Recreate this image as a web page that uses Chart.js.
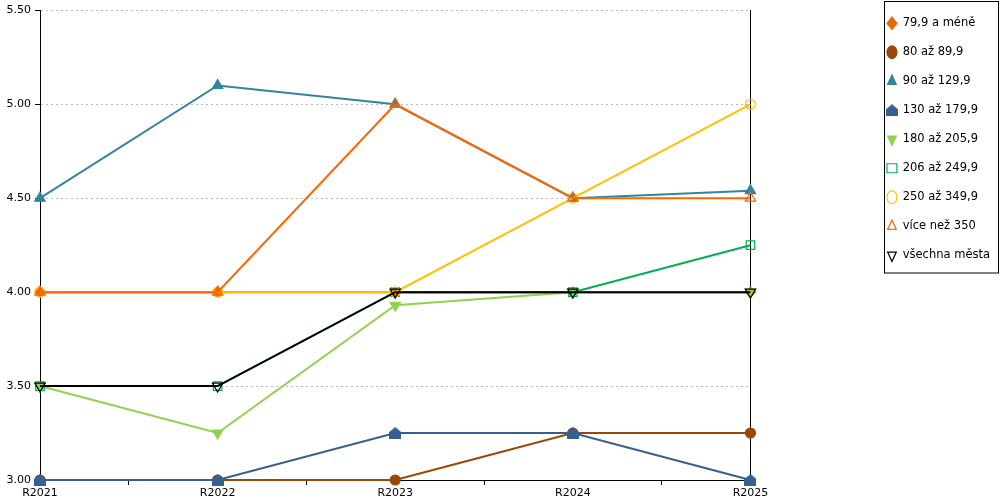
<!DOCTYPE html>
<html>
<head>
<meta charset="utf-8">
<script src="https://cdn.jsdelivr.net/npm/chart.js@4"></script>
<style>
  html, body { margin: 0; padding: 0; background: #fff; }
  #wrap { width: 1000px; height: 500px; }
</style>
</head>
<body>
<div id="wrap"><canvas id="chart" width="1000" height="500"></canvas></div>
<script>
  const years = ['R2021', 'R2022', 'R2023', 'R2024', 'R2025'];

  const seriesNames = ['79,9 a méně', '80 až 89,9', '90 až 129,9', '130 až 179,9', '180 až 205,9',
    '206 až 249,9', '250 až 349,9', 'více než 350', 'všechna města'];

  const v79 = [4.0, 4.0, 4.0, 4.0, 4.0];
  const v80 = [3.0, 3.0, 3.0, 3.25, 3.25];
  const v90 = [4.5, 5.1, 5.0, 4.5, 4.54];
  const v130 = [3.0, 3.0, 3.25, 3.25, 3.0];
  const v180 = [3.5, 3.25, 3.93, 4.0, 4.0];
  const v206 = [3.5, 3.5, 4.0, 4.0, 4.25];
  const v250 = [4.0, 4.0, 4.0, 4.5, 5.0];
  const v350 = [4.0, 4.0, 5.0, 4.5, 4.5];
  const vAll = [3.5, 3.5, 4.0, 4.0, 4.0];

  const seriesValues = [v79, v80, v90, v130, v180, v206, v250, v350, vAll];
  const seriesColors = ['#e36c09', '#984807', '#31859c', '#366092', '#92d050',
    '#00b050', '#ffc000', '#ff6600', '#000000'];

  // little house marker for the 130 - 179,9 group
  function houseMarker(color) {
    const c = document.createElement('canvas');
    c.width = 12; c.height = 12;
    const g = c.getContext('2d');
    g.fillStyle = color;
    g.beginPath();
    g.moveTo(6, 0);
    g.lineTo(12, 5);
    g.lineTo(12, 12);
    g.lineTo(0, 12);
    g.lineTo(0, 5);
    g.closePath();
    g.fill();
    return c;
  }

  const markers = [
    { style: 'rectRot', rot: 0, filled: true, r: 5 },
    { style: 'circle', rot: 0, filled: true, r: 5 },
    { style: 'triangle', rot: 0, filled: true, r: 6 },
    { style: houseMarker('#366092'), rot: 0, filled: true, r: 6 },
    { style: 'triangle', rot: 180, filled: true, r: 6 },
    { style: 'rect', rot: 0, filled: false, r: 6 },
    { style: 'circle', rot: 0, filled: false, r: 5 },
    { style: 'triangle', rot: 0, filled: false, r: 6 },
    { style: 'triangle', rot: 180, filled: false, r: 6 }
  ];

  const datasets = seriesNames.map((name, i) => ({
    label: name,
    data: seriesValues[i],
    borderColor: seriesColors[i],
    backgroundColor: markers[i].filled ? seriesColors[i] : 'rgba(0,0,0,0)',
    borderWidth: 2,
    pointStyle: markers[i].style,
    pointRotation: markers[i].rot,
    pointRadius: markers[i].r,
    pointHoverRadius: markers[i].r,
    pointBorderWidth: 1.2,
    tension: 0,
    clip: false,
    order: -i
  }));

  const legendBox = {
    id: 'legendBox',
    afterDraw(chart) {
      const lg = chart.legend;
      if (!lg || !lg.legendHitBoxes.length) return;
      const boxes = lg.legendHitBoxes;
      const last = boxes[boxes.length - 1];
      const ctx = chart.ctx;
      ctx.save();
      ctx.strokeStyle = '#000';
      ctx.lineWidth = 1;
      ctx.strokeRect(884.5, 1.5, 114, Math.round(last.top + last.height + 12) - 1.5);
      ctx.restore();
    }
  };

  Chart.defaults.font.family = '"DejaVu Sans", Verdana, sans-serif';
  Chart.defaults.color = '#000';

  new Chart(document.getElementById('chart').getContext('2d'), {
    type: 'line',
    data: { labels: years, datasets: datasets },
    options: {
      responsive: false,
      animation: false,
      layout: { padding: 0 },
      plugins: {
        tooltip: { enabled: false },
        legend: {
          position: 'right',
          align: 'start',
          labels: {
            usePointStyle: true,
            boxWidth: 10,
            boxHeight: 9,
            pointStyleWidth: 10,
            padding: 17.5,
            color: '#000',
            font: { size: 11.5 },
            sort: (a, b) => a.datasetIndex - b.datasetIndex
          }
        }
      },
      scales: {
        x: {
          offset: false,
          afterFit: s => { s.height = 20; },
          grid: { drawOnChartArea: false, offset: true, color: '#000', tickLength: 5 },
          border: { color: '#000' },
          ticks: { font: { size: 11 }, padding: 2, maxRotation: 0 }
        },
        y: {
          min: 3,
          max: 5.5,
          afterFit: s => { s.width = 40; },
          ticks: { stepSize: 0.5, font: { size: 11, lineHeight: 1.15 }, padding: 4, callback: v => v.toFixed(2) },
          grid: { color: '#bbbbbb', tickColor: '#000', tickLength: 5 },
          border: { color: '#000', dash: [2, 3] }
        },
        y2: {
          position: 'right',
          min: 3,
          max: 5.5,
          afterFit: s => { s.width = 119; },
          ticks: { display: false },
          grid: { drawOnChartArea: false, drawTicks: false },
          border: { color: '#000' }
        }
      }
    },
    plugins: [legendBox]
  });
</script>
</body>
</html>
